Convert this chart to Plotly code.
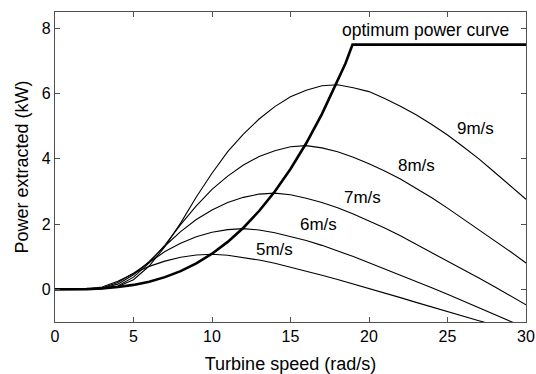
import plotly.graph_objects as go

# Turbine speed grid (rad/s)
speed = list(range(0, 31))

# Power extracted (kW) for each wind speed
p5 = [0, 0, 0.007, 0.072, 0.247, 0.485, 0.705, 0.866, 0.984, 1.052, 1.076,
      1.047, 0.981, 0.898, 0.80, 0.685, 0.56, 0.431, 0.30, 0.165, 0.029,
      -0.112, -0.253, -0.399, -0.545, -0.685, -0.825, -0.961, -1.095, -1.21, -1.33]
p6 = [0, 0, 0.005, 0.043, 0.212, 0.492, 0.838, 1.158, 1.41, 1.61, 1.75,
      1.83, 1.86, 1.82, 1.733, 1.624, 1.496, 1.349, 1.184, 1.005, 0.819,
      0.632, 0.441, 0.246, 0.050, -0.152, -0.355, -0.563, -0.774, -0.981, -1.184]
p7 = [0, 0, 0.003, 0.032, 0.16, 0.446, 0.855, 1.33, 1.77, 2.14, 2.43,
      2.66, 2.82, 2.92, 2.95, 2.90, 2.795, 2.66, 2.50, 2.31, 2.105,
      1.88, 1.64, 1.385, 1.13, 0.876, 0.611, 0.346, 0.079, -0.196, -0.472]
p8 = [0, 0, 0.002, 0.021, 0.102, 0.374, 0.809, 1.36, 1.986, 2.56, 3.065,
      3.47, 3.81, 4.07, 4.25, 4.37, 4.405, 4.335, 4.22, 4.05, 3.85,
      3.63, 3.38, 3.10, 2.81, 2.49, 2.16, 1.83, 1.50, 1.16, 0.81]
p9 = [0, 0, 0, 0.017, 0.085, 0.296, 0.716, 1.309, 2.03, 2.83, 3.56,
      4.22, 4.76, 5.22, 5.60, 5.90, 6.10, 6.24, 6.27, 6.18, 6.06,
      5.85, 5.61, 5.35, 5.05, 4.73, 4.37, 4.00, 3.59, 3.18, 2.76]

# Optimum power curve
opt_speed = [0, 1, 2, 3, 4, 5, 6, 7, 8, 9, 10, 11, 12, 13, 14, 15, 16, 17, 18, 18.5, 18.95, 30]
opt_power = [0, 0.0011, 0.0087, 0.0295, 0.070, 0.137, 0.236, 0.375, 0.560, 0.797, 1.093,
             1.455, 1.889, 2.401, 2.999, 3.689, 4.477, 5.370, 6.374, 6.92, 7.5, 7.5]

labels = ["5m/s", "6m/s", "7m/s", "8m/s", "9m/s"]
label_x = [14.0, 16.8, 19.56, 23.0, 26.8]
label_y = [1.235, 2.0, 2.82, 3.79, 4.93]

fig = go.Figure()
for p in [p5, p6, p7, p8, p9]:
    fig.add_trace(go.Scatter(x=speed, y=p, mode="lines",
                             line=dict(color="black", width=1.1), showlegend=False))
fig.add_trace(go.Scatter(x=opt_speed, y=opt_power, mode="lines",
                         line=dict(color="black", width=2.6), showlegend=False))

font_family = "Liberation Sans, Arial, sans-serif"
for t, xx, yy in zip(labels, label_x, label_y):
    fig.add_annotation(x=xx, y=yy, text=t, showarrow=False,
                       font=dict(family=font_family, size=17, color="black"))
fig.add_annotation(x=23.6, y=7.94, text="optimum power curve", showarrow=False,
                   font=dict(family=font_family, size=17.5, color="black"))

axis_common = dict(showgrid=False, zeroline=False, showline=True, mirror="ticks",
                   linecolor="#505050", linewidth=1.2, ticks="inside", ticklen=5,
                   tickcolor="#505050", tickwidth=1, automargin=False,
                   tickfont=dict(family=font_family, size=16, color="black"))
fig.update_xaxes(range=[0, 30], tickvals=[0, 5, 10, 15, 20, 25, 30],
                 title=dict(text="Turbine speed (rad/s)",
                            font=dict(family=font_family, size=18, color="black")),
                 **axis_common)
fig.update_yaxes(range=[-1, 8.5], tickvals=[0, 2, 4, 6, 8],
                 title=dict(text="Power extracted (kW)", standoff=8,
                            font=dict(family=font_family, size=18, color="black")),
                 **axis_common)
fig.update_layout(width=536, height=374, margin=dict(l=55, r=10, t=12, b=52),
                  plot_bgcolor="white", paper_bgcolor="white")
fig.write_html("out.html")
